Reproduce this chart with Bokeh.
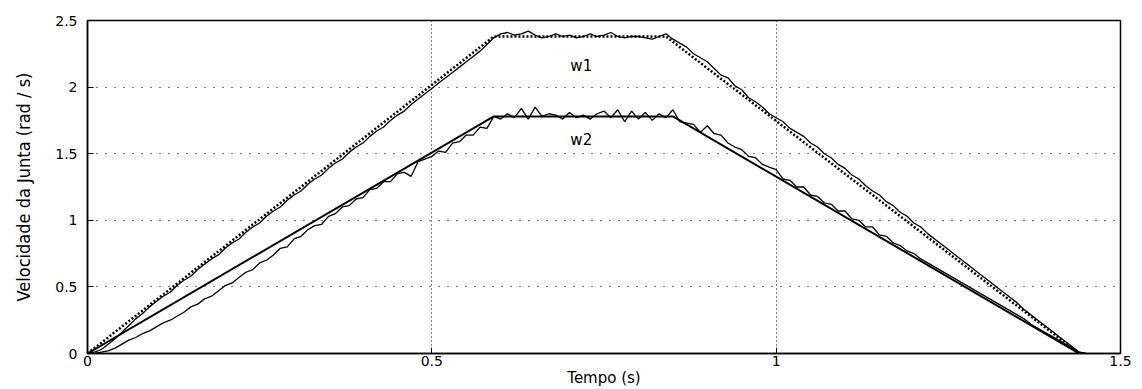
from bokeh.plotting import figure
from bokeh.models import FixedTicker, Label, Range1d
from bokeh.embed import file_html
from bokeh.resources import INLINE

# ---- data ----
t_start = 0.0
t_step = 0.01
x_ticks = [0, 0.5, 1, 1.5]
x_tick_labels = ["0", "0.5", "1", "1.5"]
y_ticks = [0, 0.5, 1, 1.5, 2, 2.5]
y_tick_labels = ["0", "0.5", "1", "1.5", "2", "2.5"]

# reference (desired) trapezoidal profiles: breakpoints
w1_ref_t = [0.0, 0.59, 0.84, 1.44]
w1_ref_v = [0.0, 2.38, 2.38, 0.0]
w2_ref_t = [0.0, 0.59, 0.85, 1.44]
w2_ref_v = [0.0, 1.78, 1.78, 0.0]

# measured velocities, sampled every 0.01 s from 0 to 1.45 s
w1_meas = [
    0.00, 0.01, 0.03, 0.07, 0.11, 0.16, 0.21, 0.26, 0.30, 0.35,
    0.39, 0.43, 0.46, 0.51, 0.55, 0.58, 0.63, 0.67, 0.71, 0.74,
    0.79, 0.83, 0.86, 0.91, 0.95, 0.98, 1.03, 1.07, 1.10, 1.15,
    1.19, 1.22, 1.27, 1.31, 1.34, 1.39, 1.43, 1.46, 1.51, 1.55,
    1.58, 1.63, 1.67, 1.70, 1.75, 1.79, 1.82, 1.87, 1.91, 1.95,
    1.99, 2.03, 2.07, 2.11, 2.15, 2.19, 2.23, 2.27, 2.32, 2.37,
    2.40, 2.41, 2.39, 2.40, 2.42, 2.39, 2.37, 2.38, 2.40, 2.38,
    2.39, 2.37, 2.38, 2.40, 2.38, 2.39, 2.41, 2.38, 2.37, 2.38,
    2.38, 2.37, 2.36, 2.38, 2.40, 2.36, 2.33, 2.30, 2.25, 2.22,
    2.19, 2.14, 2.09, 2.07, 2.01, 1.98, 1.92, 1.89, 1.85, 1.80,
    1.77, 1.74, 1.69, 1.66, 1.63, 1.58, 1.55, 1.50, 1.47, 1.42,
    1.39, 1.34, 1.31, 1.26, 1.22, 1.19, 1.14, 1.11, 1.06, 1.03,
    0.98, 0.95, 0.90, 0.86, 0.82, 0.78, 0.74, 0.70, 0.66, 0.62,
    0.58, 0.54, 0.50, 0.46, 0.42, 0.38, 0.33, 0.29, 0.25, 0.21,
    0.17, 0.13, 0.09, 0.05, 0.01, 0.00,
]
w2_meas = [
    0.00, 0.00, 0.01, 0.02, 0.04, 0.07, 0.10, 0.12, 0.15, 0.17,
    0.20, 0.23, 0.25, 0.28, 0.31, 0.35, 0.37, 0.41, 0.43, 0.47,
    0.51, 0.53, 0.57, 0.61, 0.63, 0.68, 0.70, 0.74, 0.79, 0.80,
    0.86, 0.88, 0.93, 0.96, 0.97, 1.03, 1.05, 1.10, 1.11, 1.16,
    1.17, 1.23, 1.24, 1.29, 1.29, 1.35, 1.36, 1.33, 1.44, 1.46,
    1.48, 1.52, 1.51, 1.58, 1.59, 1.64, 1.64, 1.70, 1.69, 1.78,
    1.76, 1.80, 1.77, 1.84, 1.76, 1.85, 1.78, 1.80, 1.79, 1.76,
    1.81, 1.77, 1.79, 1.76, 1.80, 1.82, 1.77, 1.83, 1.74, 1.82,
    1.76, 1.81, 1.75, 1.80, 1.77, 1.83, 1.74, 1.73, 1.72, 1.66,
    1.71, 1.65, 1.64, 1.58, 1.55, 1.53, 1.48, 1.47, 1.42, 1.40,
    1.38, 1.31, 1.30, 1.25, 1.25, 1.19, 1.18, 1.13, 1.12, 1.07,
    1.07, 1.01, 1.00, 0.95, 0.95, 0.89, 0.88, 0.83, 0.81, 0.77,
    0.75, 0.71, 0.68, 0.65, 0.62, 0.59, 0.56, 0.53, 0.50, 0.47,
    0.44, 0.41, 0.38, 0.35, 0.32, 0.29, 0.26, 0.22, 0.19, 0.16,
    0.13, 0.10, 0.07, 0.04, 0.01, 0.00,
]
t_meas = [round(t_start + i * t_step, 2) for i in range(len(w1_meas))]

series_labels = ["w1", "w2"]
x_title = "Tempo (s)"
y_title = "Velocidade da Junta (rad / s)"

# ---- figure ----
p = figure(width=1142, height=389, output_backend="svg", toolbar_location=None,
           x_range=Range1d(0, 1.5), y_range=Range1d(0, 2.5),
           min_border_left=87, min_border_right=22, min_border_top=20, min_border_bottom=34)
p.background_fill_color = "white"
p.border_fill_color = "white"
p.outline_line_color = "black"
p.outline_line_width = 1.5

for ax in (p.xaxis[0], p.yaxis[0]):
    ax.axis_line_color = "black"
    ax.axis_line_width = 1.5
    ax.major_tick_in = 6
    ax.major_tick_out = 0
    ax.major_tick_line_color = "black"
    ax.minor_tick_line_color = None
    ax.major_label_text_font = "DejaVu Sans"
    ax.major_label_text_font_size = "14px"
    ax.major_label_text_color = "black"
    ax.axis_label_text_color = "black"
    ax.axis_label_text_font_style = "normal"

p.xaxis.ticker = FixedTicker(ticks=x_ticks)
p.xaxis.major_label_overrides = dict(zip(x_ticks, x_tick_labels))
p.xaxis.major_label_standoff = 2
p.xaxis.axis_label = x_title
p.xaxis.axis_label_text_font = "DejaVu Sans"
p.xaxis.axis_label_text_font_size = "15px"
p.xaxis.axis_label_standoff = 0

p.yaxis.ticker = FixedTicker(ticks=y_ticks)
p.yaxis.major_label_overrides = dict(zip(y_ticks, y_tick_labels))
p.yaxis.major_label_standoff = 10
p.yaxis.axis_label = y_title
p.yaxis.axis_label_text_font = "DejaVu Sans Condensed"
p.yaxis.axis_label_text_font_size = "18px"
p.yaxis.axis_label_standoff = 18

p.xgrid.ticker = FixedTicker(ticks=x_ticks)
p.ygrid.ticker = FixedTicker(ticks=y_ticks)
p.xgrid.grid_line_color = "black"
p.xgrid.grid_line_dash = "1 3"
p.xgrid.grid_line_width = 1
p.ygrid.grid_line_color = "black"
p.ygrid.grid_line_dash = "1 8"
p.ygrid.grid_line_width = 1

# lines
p.line(w1_ref_t, w1_ref_v, line_color="black", line_width=2.5, line_dash="2 2")
p.line(t_meas, w1_meas, line_color="black", line_width=1.3)
p.line(w2_ref_t, w2_ref_v, line_color="black", line_width=2)
p.line(t_meas, w2_meas, line_color="black", line_width=1.3)

# annotations
p.add_layout(Label(x=0.717, y=2.16, text=series_labels[0], text_align="center",
                   text_baseline="middle", text_font="DejaVu Sans", text_font_size="15px",
                   text_color="black"))
p.add_layout(Label(x=0.717, y=1.60, text=series_labels[1], text_align="center",
                   text_baseline="middle", text_font="DejaVu Sans", text_font_size="15px",
                   text_color="black"))

open("out.html", "w").write(file_html(p, INLINE))
